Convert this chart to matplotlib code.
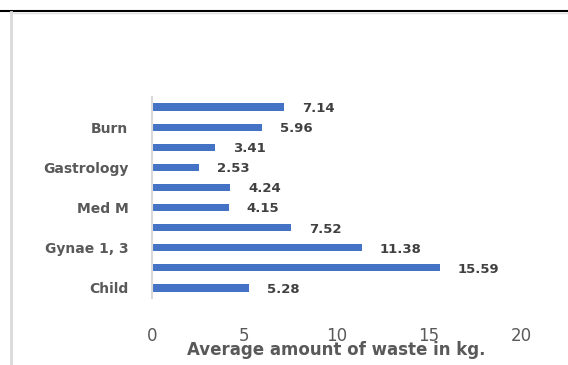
import matplotlib
matplotlib.use("Agg")
import matplotlib.pyplot as plt
from matplotlib.lines import Line2D

# wards, bottom to top (only every second one is labelled on the axis)
wards = ["Child", "", "Gynae 1, 3", "", "Med M", "", "Gastrology", "", "Burn", ""]
waste = [5.28, 15.59, 11.38, 7.52, 4.15, 4.24, 2.53, 3.41, 5.96, 7.14]
xticks = [0, 5, 10, 15, 20]

fnt = ["DejaVu Sans"]

fig = plt.figure(figsize=(5.68, 3.65), dpi=100)
ax = fig.add_axes([152 / 568, 1 - 298 / 365, 369 / 568, 201 / 365])

pos = list(range(len(waste)))
ax.barh(pos, waste, height=0.36, color="#4472C4")
ax.set_ylim(-0.5, len(waste) - 0.5)
ax.set_xlim(0, 20)

for p, v in zip(pos, waste):
    ax.annotate(f"{v:.2f}", (v, p), xytext=(13, -1), textcoords="offset points",
                va="center", ha="left", fontsize=9.5, fontweight="bold",
                color="#404040", family=fnt)

ax.set_yticks([p for p, w in zip(pos, wards) if w])
ax.set_yticklabels([w for w in wards if w], fontsize=10, fontweight="bold",
                   color="#595959", family=fnt)
ax.set_xticks(xticks)
ax.set_xticklabels([str(t) for t in xticks], fontsize=12, color="#595959", family=fnt)
ax.tick_params(axis="y", length=0, pad=17)
ax.tick_params(axis="x", length=0, pad=21)

for s in ["top", "right", "bottom"]:
    ax.spines[s].set_visible(False)
ax.spines["left"].set_color("#D9D9D9")
ax.spines["left"].set_linewidth(1.5)

# in the original the axis title sits partly over the tick labels
ax.set_xlabel("Average amount of waste in kg.", fontsize=12, fontweight="bold",
              color="#595959", family=fnt)
ax.xaxis.set_label_coords(0.5, -0.215)

# frame lines of the page
fig.add_artist(Line2D([0, 1], [1 - 10.5 / 365] * 2, color="black", lw=1.5))
fig.add_artist(Line2D([10.5 / 568, 1], [1 - 13 / 365] * 2, color="#E0E0E0", lw=1))
fig.add_artist(Line2D([10.5 / 568] * 2, [0, 1 - 12 / 365], color="#D9D9D9", lw=2))

fig.savefig("out.png", dpi=100)
